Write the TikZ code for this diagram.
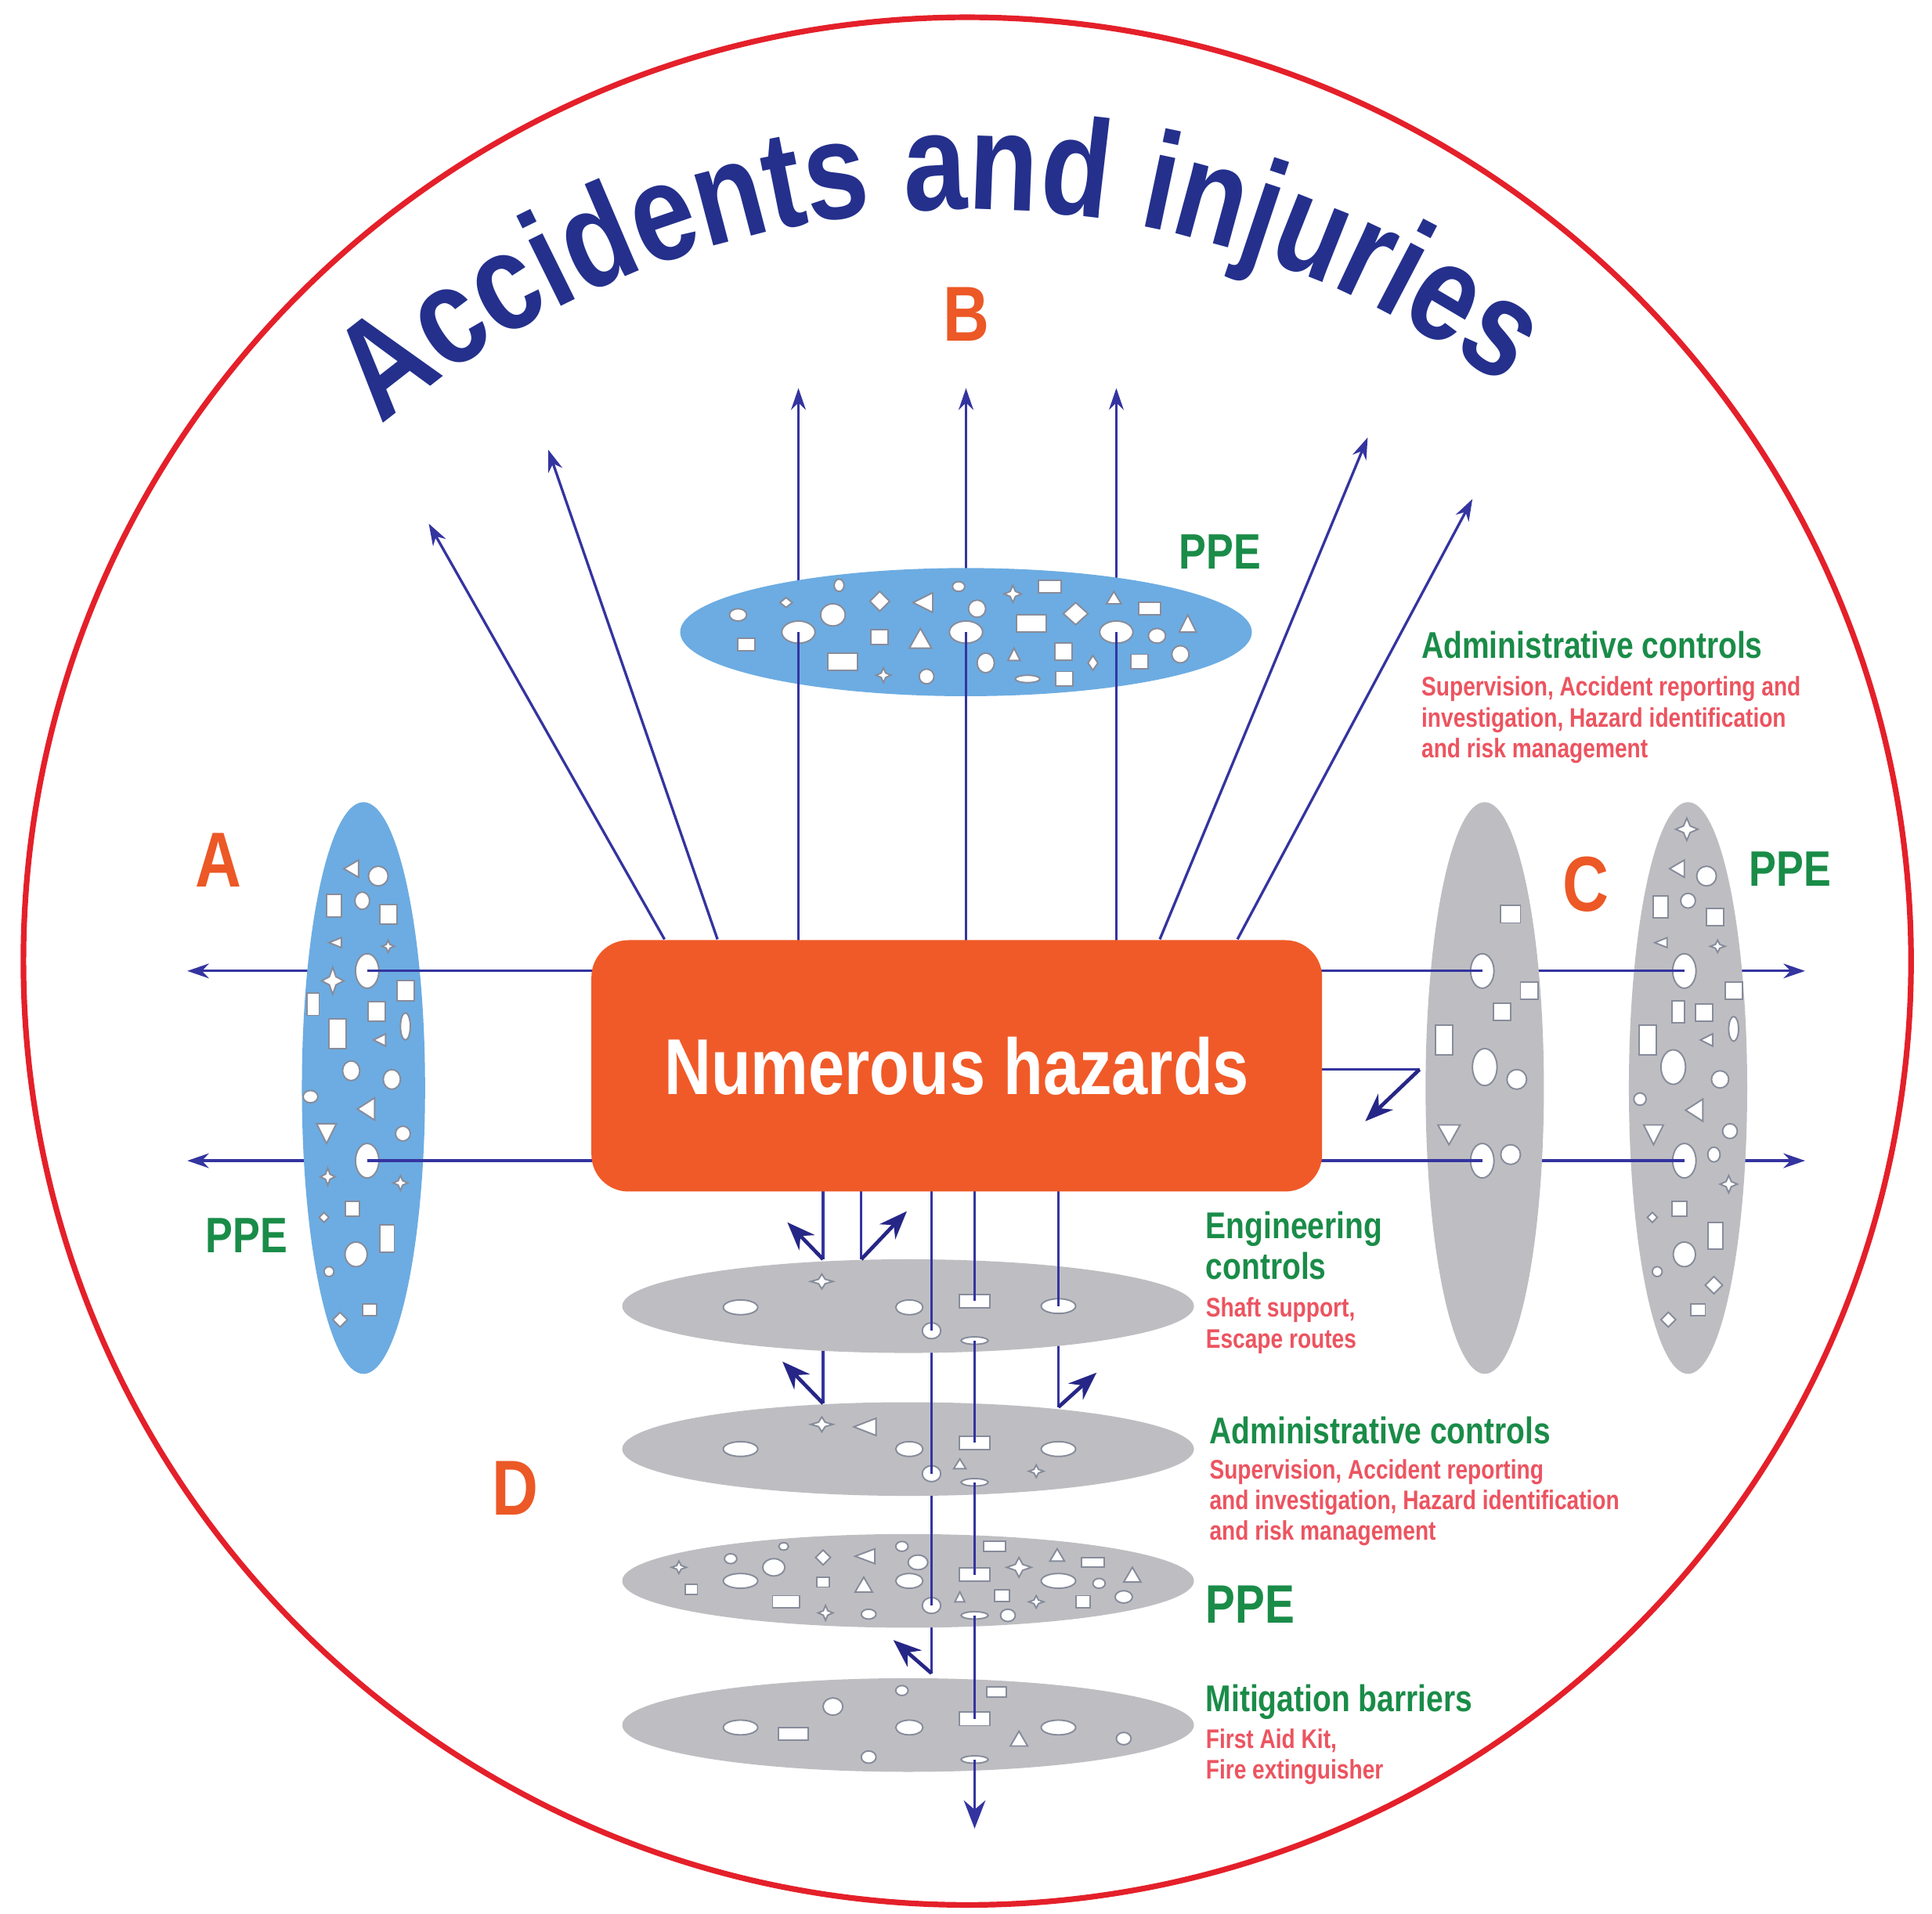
\documentclass[tikz,border=0pt]{standalone}
\usepackage{fontspec}
\usetikzlibrary{shapes.geometric,arrows.meta,decorations.text,calc}
\newfontfamily\cnd[FakeStretch=0.82]{Liberation Sans}
\definecolor{ringred}{RGB}{228,32,42}
\definecolor{ttlblue}{RGB}{36,48,140}
\definecolor{hazorange}{RGB}{240,90,40}
\definecolor{lblorange}{RGB}{236,88,38}
\definecolor{ctrlgreen}{RGB}{26,140,72}
\definecolor{descred}{RGB}{236,84,96}
\definecolor{arrowblue}{RGB}{52,52,160}
\definecolor{bouncenavy}{RGB}{38,38,135}
\definecolor{skyfill}{RGB}{108,172,226}
\definecolor{greyfill}{RGB}{190,190,194}
\definecolor{holeedge}{RGB}{135,140,155}
\pgfdeclarelayer{front}
\pgfsetlayers{main,front}
\newcommand\holeE[4]{\path[hole] (#1,#2) ellipse[x radius=#3,y radius=#4];}
\newcommand\holeR[4]{\path[hole] ({#1-#3},{#2-#4}) rectangle ({#1+#3},{#2+#4});}
\newcommand\holeD[4]{\path[hole] (#1,{#2-#4}) -- ({#1+#3},#2) -- (#1,{#2+#4}) -- ({#1-#3},#2) -- cycle;}
\newcommand\holeU[4]{\path[hole] ({#1-#3},{#2+#4}) -- ({#1+#3},{#2+#4}) -- (#1,{#2-#4}) -- cycle;}
\newcommand\holeV[4]{\path[hole] ({#1-#3},{#2-#4}) -- ({#1+#3},{#2-#4}) -- (#1,{#2+#4}) -- cycle;}
\newcommand\holeL[4]{\path[hole] ({#1-#3},#2) -- ({#1+#3},{#2-#4}) -- ({#1+#3},{#2+#4}) -- cycle;}
\newcommand\holeS[4]{\path[hole] (#1,{#2-#4}) -- ({#1+0.3*#3},{#2-0.3*#4}) -- ({#1+#3},#2) -- ({#1+0.3*#3},{#2+0.3*#4}) -- (#1,{#2+#4}) -- ({#1-0.3*#3},{#2+0.3*#4}) -- ({#1-#3},#2) -- ({#1-0.3*#3},{#2-0.3*#4}) -- cycle;}
\begin{document}
\begin{tikzpicture}[x=0.1mm,y=-0.1mm,
  hole/.style={fill=white,draw=holeedge,line width=0.35pt},
  bighole/.style={ellipse,fill=white,draw=holeedge,line width=0.35pt,inner sep=0pt},
  recthole/.style={rectangle,fill=white,draw=holeedge,line width=0.35pt,inner sep=0pt},
  hazard/.style={fill=hazorange,rounded corners=3mm,minimum width=59.3mm,minimum height=20.4mm,inner sep=0pt,text=white,font=\cnd\bfseries\fontsize{18.3}{20}\selectfont},
  arr/.style={draw=arrowblue,line width=0.6pt,-{Stealth[length=5pt,width=3.4pt]}},
  ln/.style={draw=arrowblue,line width=0.6pt},
  barr/.style={draw=bouncenavy,line width=0.85pt,-{Stealth[length=6.5pt,width=5pt]}},
  lbl/.style={font=\cnd\bfseries\fontsize{18}{20}\selectfont,text=lblorange,inner sep=0pt},
  ppe/.style={font=\cnd\bfseries\fontsize{11.5}{13}\selectfont,text=ctrlgreen,inner sep=0pt},
  gtitle/.style={font=\cnd\bfseries\fontsize{8.6}{10}\selectfont,text=ctrlgreen,anchor=base west,inner sep=0pt},
  desc/.style={font=\cnd\bfseries\fontsize{6.2}{7}\selectfont,text=descred,anchor=base west,inner sep=0pt}]

\fill[white] (0,0) rectangle (1568,1553);
\useasboundingbox (0,0) rectangle (1568,1553);

% outer ring
\draw[ringred,line width=1.3pt] (785,780) circle[radius=766];

% title along an arc
\begin{scope}[x=1cm,y=1cm]
\path[decorate,decoration={text along path,text align=center,
  text={|\color{ttlblue}\cnd\bfseries\fontsize{32}{36}\selectfont|Accidents and injuries}}]
  (7.85,-9.00) ++(152:7.30) arc[start angle=152,end angle=32,radius=7.30];
\end{scope}

% central hazard box (front layer)
\begin{pgfonlayer}{front}
\node[hazard] (haz) at (776.5,865) {Numerous hazards};
\end{pgfonlayer}

% ---------------- B (top) ----------------
\coordinate (tB1) at (348,425);
\coordinate (tB2) at (445,365);
\coordinate (tB3) at (648,315);
\coordinate (tB4) at (784,315);
\coordinate (tB5) at (906,315);
\coordinate (tB6) at (1110,355);
\coordinate (tB7) at (1195,405);
\coordinate (cB1) at (648,513);
\coordinate (cB2) at (784,513);
\coordinate (cB3) at (906,513);
\draw[arr] ([xshift=6mm]haz.north west) -- (tB1);
\draw[arr] ([xshift=10.3mm]haz.north west) -- (tB2);
\draw[arr] ([xshift=46.2mm]haz.north west) -- (tB6);
\draw[arr] ([xshift=52.5mm]haz.north west) -- (tB7);
\draw[arr] (cB1) -- (tB3);
\draw[arr] (cB2) -- (tB4);
\draw[arr] (cB3) -- (tB5);
\fill[skyfill] (784,513) ellipse[x radius=232,y radius=52];
\holeE{599}{499}{7}{5}
\holeD{638}{489}{5}{4}
\holeE{681}{475}{4}{5}
\holeE{676}{499}{10}{9}
\holeR{606}{523}{7}{5}
\holeR{684}{537}{12}{7}
\holeD{714}{488}{8}{8}
\holeL{749}{489}{8}{8}
\holeR{714}{517}{7}{6}
\holeU{747}{518}{9}{8}
\holeS{717}{548}{6}{6}
\holeE{752}{549}{6}{6}
\holeE{778}{476}{5}{4}
\holeE{793}{494}{7}{7}
\holeE{800}{538}{7}{8}
\holeS{822}{482}{7}{7}
\holeR{852}{476}{9}{5}
\holeR{837}{506}{12}{7}
\holeU{823}{531}{5}{5}
\holeE{834}{551}{10}{3}
\holeR{863}{529}{7}{7}
\holeR{864}{551}{7}{6}
\holeD{873}{498}{10}{9}
\holeD{887}{538}{4}{6}
\holeU{904}{485}{6}{5}
\holeR{933}{494}{9}{5}
\holeR{925}{537}{7}{6}
\holeE{939}{516}{7}{6}
\holeU{964}{506}{7}{7}
\holeE{958}{531}{7}{7}
\node[bighole,minimum width=2.7mm,minimum height=1.8mm] (hB1) at (cB1) {};
\node[bighole,minimum width=2.7mm,minimum height=1.8mm] (hB2) at (cB2) {};
\node[bighole,minimum width=2.7mm,minimum height=1.8mm] (hB3) at (cB3) {};
\draw[ln] (haz.center -| hB1) -- (hB1.center);
\draw[ln] (haz.center -| hB2) -- (hB2.center);
\draw[ln] (haz.center -| hB3) -- (hB3.center);

% ---------------- A (left) ----------------
\coordinate (tA1) at (152,788);
\coordinate (tA2) at (152,942);
\coordinate (cA1) at (298,788);
\coordinate (cA2) at (298,942);
\draw[arr] (cA1) -- (tA1);
\draw[arr] (cA2) -- (tA2);
\fill[skyfill] (295,883) ellipse[x radius=50,y radius=232];
\holeL{285}{705}{6}{7}
\holeE{307}{711}{8}{8}
\holeR{271}{735}{6}{9}
\holeE{294}{731}{6}{7}
\holeR{315}{742}{7}{8}
\holeL{272}{765}{5}{4}
\holeS{315}{768}{5}{5}
\holeS{270}{796}{9}{11}
\holeR{329}{804}{7}{8}
\holeR{254}{815}{5}{9}
\holeR{306}{821}{7}{8}
\holeR{274}{839}{7}{12}
\holeE{329}{833}{4}{11}
\holeL{308}{844}{5}{5}
\holeE{285}{869}{7}{8}
\holeE{318}{876}{7}{8}
\holeE{252}{890}{6}{5}
\holeL{297}{900}{7}{9}
\holeV{265}{920}{8}{8}
\holeE{327}{920}{6}{6}
\holeS{266}{955}{6}{7}
\holeS{325}{960}{6}{6}
\holeR{286}{981}{6}{6}
\holeD{263}{988}{4}{4}
\holeR{314}{1005}{6}{11}
\holeE{289}{1018}{9}{10}
\holeE{267}{1032}{4}{4}
\holeR{300}{1063}{6}{5}
\holeD{276}{1071}{6}{6}
\node[bighole,minimum width=1.9mm,minimum height=2.8mm] (hA1) at (cA1) {};
\node[bighole,minimum width=1.9mm,minimum height=2.8mm] (hA2) at (cA2) {};
\draw[ln] (haz.center |- hA1) -- (hA1.center);
\draw[ln] (haz.center |- hA2) -- (hA2.center);

% ---------------- C (right) ----------------
\coordinate (tC1) at (1465,788);
\coordinate (tC2) at (1465,942);
\coordinate (cC1a) at (1203,788);
\coordinate (cC1b) at (1203,942);
\coordinate (cC2a) at (1367,788);
\coordinate (cC2b) at (1367,942);
\draw[arr] (cC2a) -- (tC1);
\draw[arr] (cC2b) -- (tC2);
\fill[greyfill] (1370,883) ellipse[x radius=48,y radius=232];
\holeS{1369}{673}{9}{9}
\holeL{1361}{705}{6}{7}
\holeE{1385}{711}{8}{8}
\holeR{1348}{736}{6}{9}
\holeE{1370}{731}{6}{6}
\holeR{1392}{744}{7}{7}
\holeL{1348}{765}{5}{4}
\holeS{1394}{768}{6}{5}
\holeR{1407}{804}{7}{7}
\holeR{1362}{821}{5}{9}
\holeR{1383}{822}{7}{7}
\holeE{1407}{835}{4}{10}
\holeR{1337}{844}{7}{12}
\holeL{1385}{844}{5}{5}
\holeE{1358}{866}{10}{14}
\holeE{1396}{876}{7}{7}
\holeE{1331}{892}{5}{5}
\holeL{1375}{901}{7}{9}
\holeV{1342}{921}{8}{8}
\holeE{1404}{918}{6}{6}
\holeE{1391}{937}{5}{6}
\holeS{1403}{961}{7}{7}
\holeR{1363}{981}{6}{6}
\holeD{1341}{988}{4}{4}
\holeR{1392}{1003}{6}{11}
\holeE{1367}{1018}{9}{10}
\holeE{1345}{1032}{4}{4}
\holeD{1391}{1043}{7}{7}
\holeR{1378}{1063}{6}{5}
\holeD{1354}{1071}{6}{6}
\node[bighole,minimum width=1.9mm,minimum height=2.8mm] (hC2a) at (cC2a) {};
\node[bighole,minimum width=1.9mm,minimum height=2.8mm] (hC2b) at (cC2b) {};
\draw[ln] (cC1a) -- (hC2a.center);
\draw[ln] (cC1b) -- (hC2b.center);
\fill[greyfill] (1205,883) ellipse[x radius=48,y radius=232];
\holeR{1226}{742}{8}{7}
\holeR{1241}{804}{7}{7}
\holeR{1219}{821}{7}{7}
\holeR{1172}{844}{7}{12}
\holeE{1205}{866}{10}{15}
\holeE{1231}{876}{8}{8}
\holeV{1176}{921}{9}{8}
\holeE{1226}{937}{8}{8}
\node[bighole,minimum width=1.9mm,minimum height=2.8mm] (hC1a) at (cC1a) {};
\node[bighole,minimum width=1.9mm,minimum height=2.8mm] (hC1b) at (cC1b) {};
\draw[ln] (haz.center |- hC1a) -- (hC1a.center);
\draw[ln] (haz.center |- hC1b) -- (hC1b.center);
\coordinate (cbend) at (1152,868);
\coordinate (cbtip) at (1108,910);
\draw[ln] (haz.center |- cbend) -- (cbend);
\draw[barr] (cbend) -- (cbtip);

% ---------------- D (bottom stack) ----------------
\coordinate (dv1) at (668,1022);
\coordinate (dt1) at (639,992);
\coordinate (dv2) at (699,1022);
\coordinate (dt2) at (736,983);
\coordinate (dv3) at (668,1139);
\coordinate (dt3) at (635,1105);
\coordinate (dv4) at (859,1142);
\coordinate (dt4) at (890,1114);
\coordinate (dv5) at (756,1358);
\coordinate (dt5) at (725,1331);
\coordinate (dt6) at (791,1484);
\coordinate (cD1c) at (756,1080);
\coordinate (cD1d) at (668,1040);
\coordinate (cD1e) at (859,1060);
\coordinate (cD2c) at (756,1196);
\coordinate (cD3c) at (756,1303);

% D4
\fill[greyfill] (737,1400) ellipse[x radius=232,y radius=38];
\holeE{732}{1372}{5}{4}
\holeR{809}{1373}{8}{4}
\holeE{676}{1385}{8}{7}
\holeE{601}{1402}{14}{6}
\holeR{644}{1407}{12}{5}
\holeE{738}{1402}{11}{6}
\holeU{827}{1411}{7}{6}
\holeE{859}{1402}{14}{6}
\holeE{912}{1411}{6}{5}
\holeE{705}{1426}{6}{5}
\node[recthole,minimum width=2.5mm,minimum height=1.1mm] (hD4r) at (791,1395) {};
\node[bighole,minimum width=2.2mm,minimum height=0.6mm] (hD4f) at (791,1428) {};

% D3
\draw[ln] (cD3c) -- (dv5);
\draw[barr] (dv5) -- (dt5);
\fill[greyfill] (737,1283) ellipse[x radius=232,y radius=38];
\holeE{636}{1255}{4}{3}
\holeE{732}{1255}{5}{4}
\holeR{807}{1255}{9}{4}
\holeE{593}{1265}{5}{4}
\holeS{551}{1272}{6}{5}
\holeE{628}{1272}{9}{7}
\holeD{668}{1264}{6}{6}
\holeL{702}{1263}{8}{6}
\holeE{745}{1268}{8}{6}
\holeS{827}{1272}{10}{8}
\holeU{858}{1262}{6}{5}
\holeR{887}{1268}{9}{4}
\holeR{561}{1290}{5}{4}
\holeE{601}{1283}{14}{6}
\holeR{668}{1284}{5}{4}
\holeU{701}{1286}{7}{6}
\holeE{738}{1283}{11}{6}
\holeE{859}{1283}{14}{6}
\holeE{892}{1285}{5}{4}
\holeU{919}{1278}{7}{6}
\holeR{813}{1295}{6}{5}
\holeU{779}{1296}{4}{4}
\holeR{638}{1300}{11}{5}
\holeR{879}{1300}{6}{5}
\holeE{912}{1296}{7}{5}
\holeS{841}{1300}{6}{5}
\holeS{670}{1309}{6}{6}
\holeE{705}{1310}{6}{4}
\holeE{818}{1311}{6}{5}
\node[recthole,minimum width=2.5mm,minimum height=1.1mm] (hD3r) at (791,1278) {};
\node[bighole,minimum width=1.5mm,minimum height=1.3mm] (hD3c) at (cD3c) {};
\node[bighole,minimum width=2.2mm,minimum height=0.6mm] (hD3f) at (791,1311) {};

% D2
\draw[ln] (cD2c) -- (hD3c.center);
\fill[greyfill] (737,1176) ellipse[x radius=232,y radius=38];
\holeS{667}{1156}{9}{6}
\holeL{702}{1158}{9}{7}
\holeE{601}{1176}{14}{6}
\holeE{738}{1176}{11}{6}
\holeE{859}{1176}{14}{6}
\holeU{779}{1188}{5}{4}
\holeS{841}{1194}{6}{5}
\node[recthole,minimum width=2.5mm,minimum height=1.1mm] (hD2r) at (791,1171) {};
\node[bighole,minimum width=1.5mm,minimum height=1.3mm] (hD2c) at (cD2c) {};
\node[bighole,minimum width=2.2mm,minimum height=0.6mm] (hD2f) at (791,1203) {};

% D1
\draw[ln] (cD1c) -- (hD2c.center);
\draw[ln] (cD1d) -- (dv3);
\draw[barr] (dv3) -- (dt3);
\draw[ln] (cD1e) -- (dv4);
\draw[barr] (dv4) -- (dt4);
\fill[greyfill] (737,1060) ellipse[x radius=232,y radius=38];
\holeS{667}{1040}{9}{6}
\holeE{601}{1061}{14}{6}
\holeE{738}{1061}{11}{6}
\node[recthole,minimum width=2.5mm,minimum height=1.1mm] (hD1r) at (791,1056) {};
\node[bighole,minimum width=2.8mm,minimum height=1.2mm] (hD1e) at (cD1e) {};
\node[bighole,minimum width=1.5mm,minimum height=1.3mm] (hD1c) at (cD1c) {};
\node[bighole,minimum width=2.2mm,minimum height=0.6mm] (hD1f) at (791,1088) {};

% lines from the box downwards
\draw[ln] (haz.center -| hD1c) -- (hD1c.center);
\draw[ln] (haz.center -| hD1e) -- (hD1e.center);
\draw[ln] (haz.center -| dv1) -- (dv1);
\draw[barr] (dv1) -- (dt1);
\draw[ln] (haz.center -| dv2) -- (dv2);
\draw[barr] (dv2) -- (dt2);
\draw[ln] (haz.center -| hD1r) -- (hD1r.center);
\draw[ln] (hD1f.center) -- (hD2r.center);
\draw[ln] (hD2f.center) -- (hD3r.center);
\draw[ln] (hD3f.center) -- (hD4r.center);
\draw[ln,-{Stealth[length=6.5pt,width=5pt]}] (hD4f.center) -- (dt6);

% ---------------- labels ----------------
\node[lbl] (labA) at (177,698) {A};
\node[lbl] (labB) at (784,255) {B};
\node[lbl] (labC) at (1287,718) {C};
\node[lbl] (labD) at (418,1208) {D};
\node[ppe] (ppeB) at (990,448) {PPE};
\node[ppe] (ppeA) at (200,1003) {PPE};
\node[ppe] (ppeC) at (1453,705) {PPE};

\node[gtitle] (adm1) at (1153,534) {Administrative controls};
\node[desc] (adm1a) at (1153,565) {Supervision, Accident reporting and};
\node[desc] (adm1b) at (1153,590) {investigation, Hazard identification};
\node[desc] (adm1c) at (1153,615) {and risk management};

\node[gtitle] (eng1) at (978,1005) {Engineering};
\node[gtitle] (eng2) at (978,1038) {controls};
\node[desc] (eng3) at (978,1069) {Shaft support,};
\node[desc] (eng4) at (978,1094) {Escape routes};

\node[gtitle] (adm2) at (981,1172) {Administrative controls};
\node[desc] (adm2a) at (981,1200) {Supervision, Accident reporting};
\node[desc] (adm2b) at (981,1225) {and investigation, Hazard identification};
\node[desc] (adm2c) at (981,1250) {and risk management};

\node[ppe,anchor=base west,font=\cnd\bfseries\fontsize{12.5}{14}\selectfont] (ppeD) at (978,1317) {PPE};

\node[gtitle] (mit1) at (978,1389) {Mitigation barriers};
\node[desc] (mit2) at (978,1419) {First Aid Kit,};
\node[desc] (mit3) at (978,1444) {Fire extinguisher};
\end{tikzpicture}
\end{document}
